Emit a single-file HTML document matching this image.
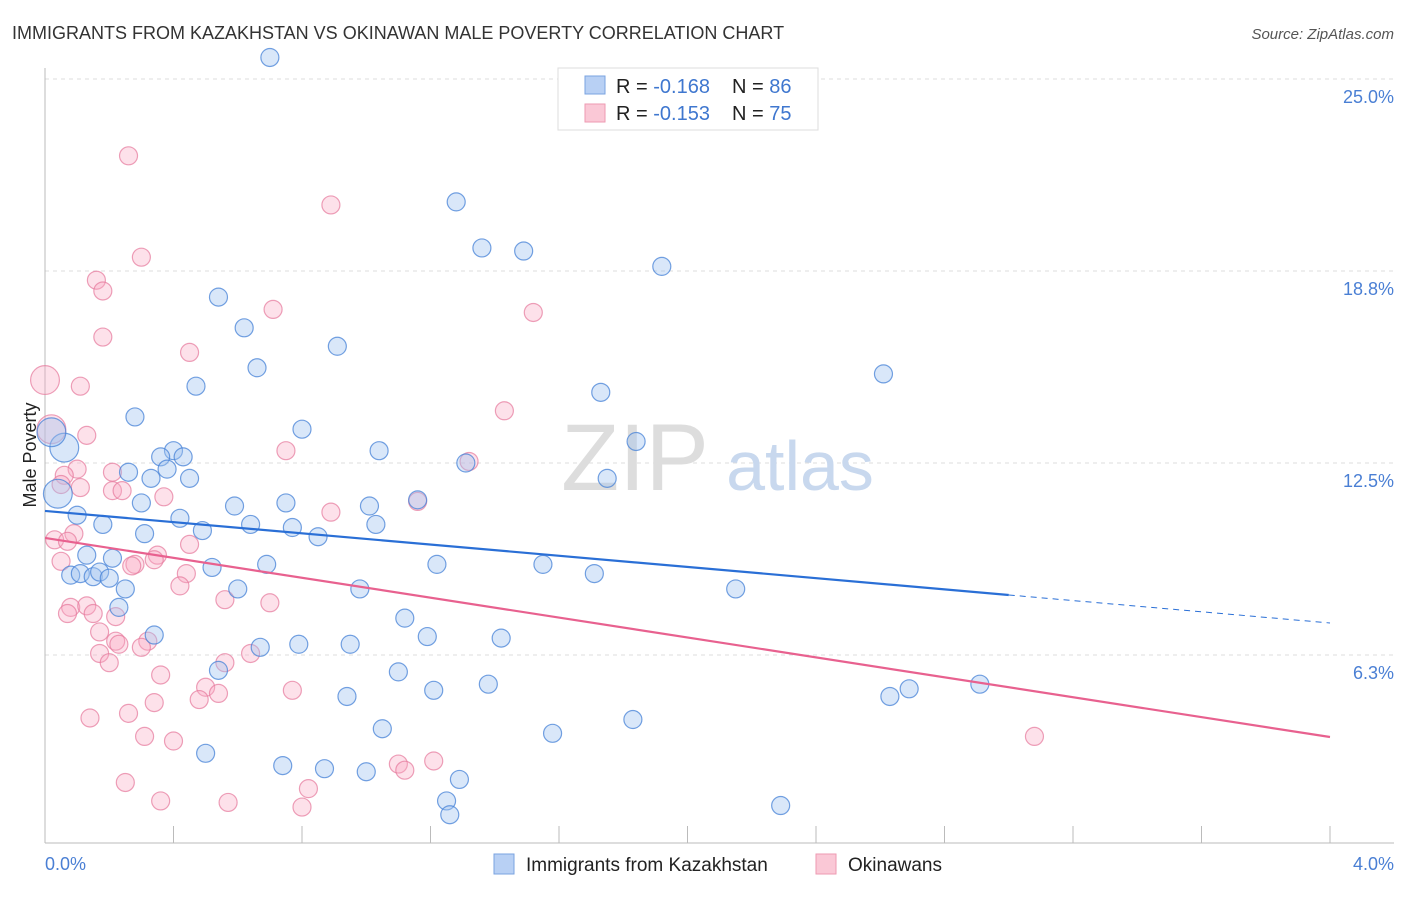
<!DOCTYPE html>
<html><head><meta charset="utf-8"><style>
body{margin:0;background:#fff;font-family:"Liberation Sans",sans-serif;}
svg text{font-family:"Liberation Sans",sans-serif;}
</style></head><body>
<svg width="1406" height="892" viewBox="0 0 1406 892">
<text x="12" y="39" font-size="18" fill="#333">IMMIGRANTS FROM KAZAKHSTAN VS OKINAWAN MALE POVERTY CORRELATION CHART</text>
<text x="1394" y="39" font-size="15" fill="#555" font-style="italic" text-anchor="end">Source: ZipAtlas.com</text>
<g id="grid"></g>
<text x="635" y="490" font-size="95" fill="#ddd" font-family="Liberation Serif" text-anchor="middle">ZIP</text>
<text x="800" y="490" font-size="70" fill="#c8d8ee" text-anchor="middle">atlas</text>
<g id="axes"></g>
<g id="pts"></g>
<g id="trend"></g>
<text x="36" y="455" font-size="18" fill="#222" text-anchor="middle" transform="rotate(-90 36 455)">Male Poverty</text>
<text x="45" y="870" font-size="18" fill="#4a7fd4">0.0%</text>
<text x="1394" y="870" font-size="18" fill="#4a7fd4" text-anchor="end">4.0%</text>
<g>
<rect x="558" y="68" width="260" height="62" fill="#fff" stroke="#ddd"/>
<rect x="585" y="76" width="20" height="18" fill="#b8d0f4" stroke="#7aa3e0"/>
<rect x="585" y="104" width="20" height="18" fill="#fac8d6" stroke="#ee9ab2"/>
<text x="616" y="93" font-size="20" fill="#222">R = <tspan fill="#3f77cf">-0.168</tspan><tspan x="732">N = </tspan><tspan fill="#3f77cf">86</tspan></text>
<text x="616" y="120" font-size="20" fill="#222">R = <tspan fill="#3f77cf">-0.153</tspan><tspan x="732">N = </tspan><tspan fill="#3f77cf">75</tspan></text>
</g>
<g>
<rect x="494" y="854" width="20" height="20" fill="#b8d0f4" stroke="#7aa3e0"/>
<text x="526" y="871" font-size="19" fill="#222">Immigrants from Kazakhstan</text>
<rect x="816" y="854" width="20" height="20" fill="#fac8d6" stroke="#ee9ab2"/>
<text x="848" y="871" font-size="19" fill="#222">Okinawans</text>
</g>
</svg>
<script>
const yTicks=[25.0,18.75,12.5,6.25];
const yTickLabels=["25.0%","18.8%","12.5%","6.3%"];
const blueX=[0.70,1.28,1.36,1.49,1.92,0.54,0.62,0.91,0.66,0.47,2.61,1.73,0.28,0.80,1.84,0.06,0.02,0.40,0.36,0.43,1.04,1.31,0.26,0.38,0.33,0.45,1.75,0.04,0.30,0.75,0.59,1.01,1.16,0.10,0.42,0.18,0.64,0.77,1.03,0.31,0.49,0.85,0.13,0.21,0.69,1.22,1.55,0.52,0.08,0.11,0.15,0.17,0.20,1.71,0.25,0.60,0.98,2.15,0.23,1.12,0.34,1.19,1.42,0.79,0.95,0.67,0.54,1.10,1.38,1.21,2.69,2.63,2.91,0.94,1.83,1.05,1.58,0.50,0.74,0.87,1.00,1.29,1.25,1.26,2.29];
const blueY=[25.7,21.0,19.5,19.4,18.9,17.9,16.9,16.3,15.6,15.0,15.4,14.8,14.0,13.6,13.2,13.0,13.5,12.9,12.7,12.7,12.9,12.5,12.2,12.3,12.0,12.0,12.0,11.5,11.2,11.2,11.1,11.1,11.3,10.8,10.7,10.5,10.5,10.4,10.5,10.2,10.3,10.1,9.5,9.4,9.2,9.2,9.2,9.1,8.85,8.9,8.8,8.95,8.75,8.9,8.4,8.4,8.4,8.4,7.8,7.45,6.9,6.85,6.8,6.6,6.6,6.5,5.75,5.7,5.3,5.1,5.15,4.9,5.3,4.9,4.15,3.85,3.7,3.05,2.65,2.55,2.45,2.2,1.5,1.05,1.35];
const blueSize=[1,1,1,1,1,1,1,1,1,1,1,1,1,1,1,1.6,1.6,1,1,1,1,1,1,1,1,1,1,1.6,1,1,1,1,1,1,1,1,1,1,1,1,1,1,1,1,1,1,1,1,1,1,1,1,1,1,1,1,1,1,1,1,1,1,1,1,1,1,1,1,1,1,1,1,1,1,1,1,1,1,1,1,1,1,1,1,1];
const pinkX=[0.26,0.89,0.30,0.16,0.18,0.71,1.52,0.18,0.45,0.00,0.11,0.02,1.43,0.13,0.75,1.32,0.10,0.06,0.21,0.05,0.11,0.21,0.24,0.37,1.16,0.89,0.09,0.03,0.07,0.45,0.35,0.34,0.05,0.28,0.27,0.44,0.42,0.08,0.13,0.15,0.07,0.56,0.70,0.22,0.17,0.32,0.22,0.23,0.30,0.17,0.64,0.56,0.20,0.36,0.50,0.77,0.54,0.48,0.34,0.14,0.26,3.08,0.31,0.40,1.10,1.21,1.12,0.25,0.82,0.36,0.57,0.80];
const pinkY=[22.5,20.9,19.2,18.45,18.1,17.5,17.4,16.6,16.1,15.2,15.0,13.6,14.2,13.4,12.9,12.55,12.3,12.1,12.2,11.8,11.7,11.6,11.6,11.4,11.25,10.9,10.2,10.0,9.95,9.85,9.5,9.35,9.3,9.2,9.15,8.9,8.5,7.8,7.85,7.6,7.6,8.05,7.95,7.5,7.0,6.7,6.7,6.6,6.5,6.3,6.3,6.0,6.0,5.6,5.2,5.1,5.0,4.8,4.7,4.2,4.35,3.6,3.6,3.45,2.7,2.8,2.5,2.1,1.9,1.5,1.45,1.3];
const pinkSize=pinkX.map((v,i)=>(i===9||i===11)?1.6:1);
const blueTrend=[10.94,-0.912]; // intercept, slope (per 1%)
const blueTrendEnd=3.0;
const pinkTrend=[10.06,-1.62];
const NS="http://www.w3.org/2000/svg";
const xS=v=>45+v*321.25, yS=v=>847-v*30.72;
function mk(tag,attrs,parent){const e=document.createElementNS(NS,tag);for(const k in attrs)e.setAttribute(k,attrs[k]);parent.appendChild(e);return e;}
const grid=document.getElementById('grid');
yTicks.forEach((t,i)=>{
 const l=mk('line',{x1:45,x2:1394,y1:yS(t),y2:yS(t),stroke:'#ddd','stroke-dasharray':'4,4'},grid);
 
 
 const tx=mk('text',{x:1394,y:yS(t)+24,'font-size':18,fill:'#4a7fd4','text-anchor':'end'},grid);
 tx.textContent=yTickLabels[i];
 
 
});
const axes=document.getElementById('axes');
mk('line',{x1:45,x2:45,y1:68,y2:843,stroke:'#bbb'},axes);
mk('line',{x1:45,x2:1394,y1:843,y2:843,stroke:'#bbb'},axes);
for(let i=0;i<=10;i++){const t=mk('line',{x1:xS(i*0.4),x2:xS(i*0.4),y1:826,y2:843,stroke:'#bbb'},axes);
 
 }
const pts=document.getElementById('pts');
function draw(X,Y,S,fill,stroke,name){X.forEach((x,i)=>{
 const c=mk('circle',{cx:xS(x),cy:yS(Y[i]),r:9*S[i],fill:fill,stroke:stroke,'stroke-width':1.2},pts);
 
 });}
draw(pinkX,pinkY,pinkSize,'rgba(248,170,195,0.35)','rgba(230,120,155,0.7)','okinawan-point');
draw(blueX,blueY,blueSize,'rgba(160,195,240,0.4)','rgba(70,130,215,0.75)','kazakhstan-point');
const tr=document.getElementById('trend');
const f=(p,x)=>p[0]+p[1]*x;
let a=mk('line',{x1:xS(0),y1:yS(f(blueTrend,0)),x2:xS(blueTrendEnd),y2:yS(f(blueTrend,blueTrendEnd)),stroke:'#2a6fd6','stroke-width':2.2},tr);


a=mk('line',{x1:xS(blueTrendEnd),y1:yS(f(blueTrend,blueTrendEnd)),x2:xS(4),y2:yS(f(blueTrend,4)),stroke:'#2a6fd6','stroke-width':1,'stroke-dasharray':'6,5'},tr);


a=mk('line',{x1:xS(0),y1:yS(f(pinkTrend,0)),x2:xS(4),y2:yS(f(pinkTrend,4)),stroke:'#e8618f','stroke-width':2.2},tr);


</script>
</body></html>
